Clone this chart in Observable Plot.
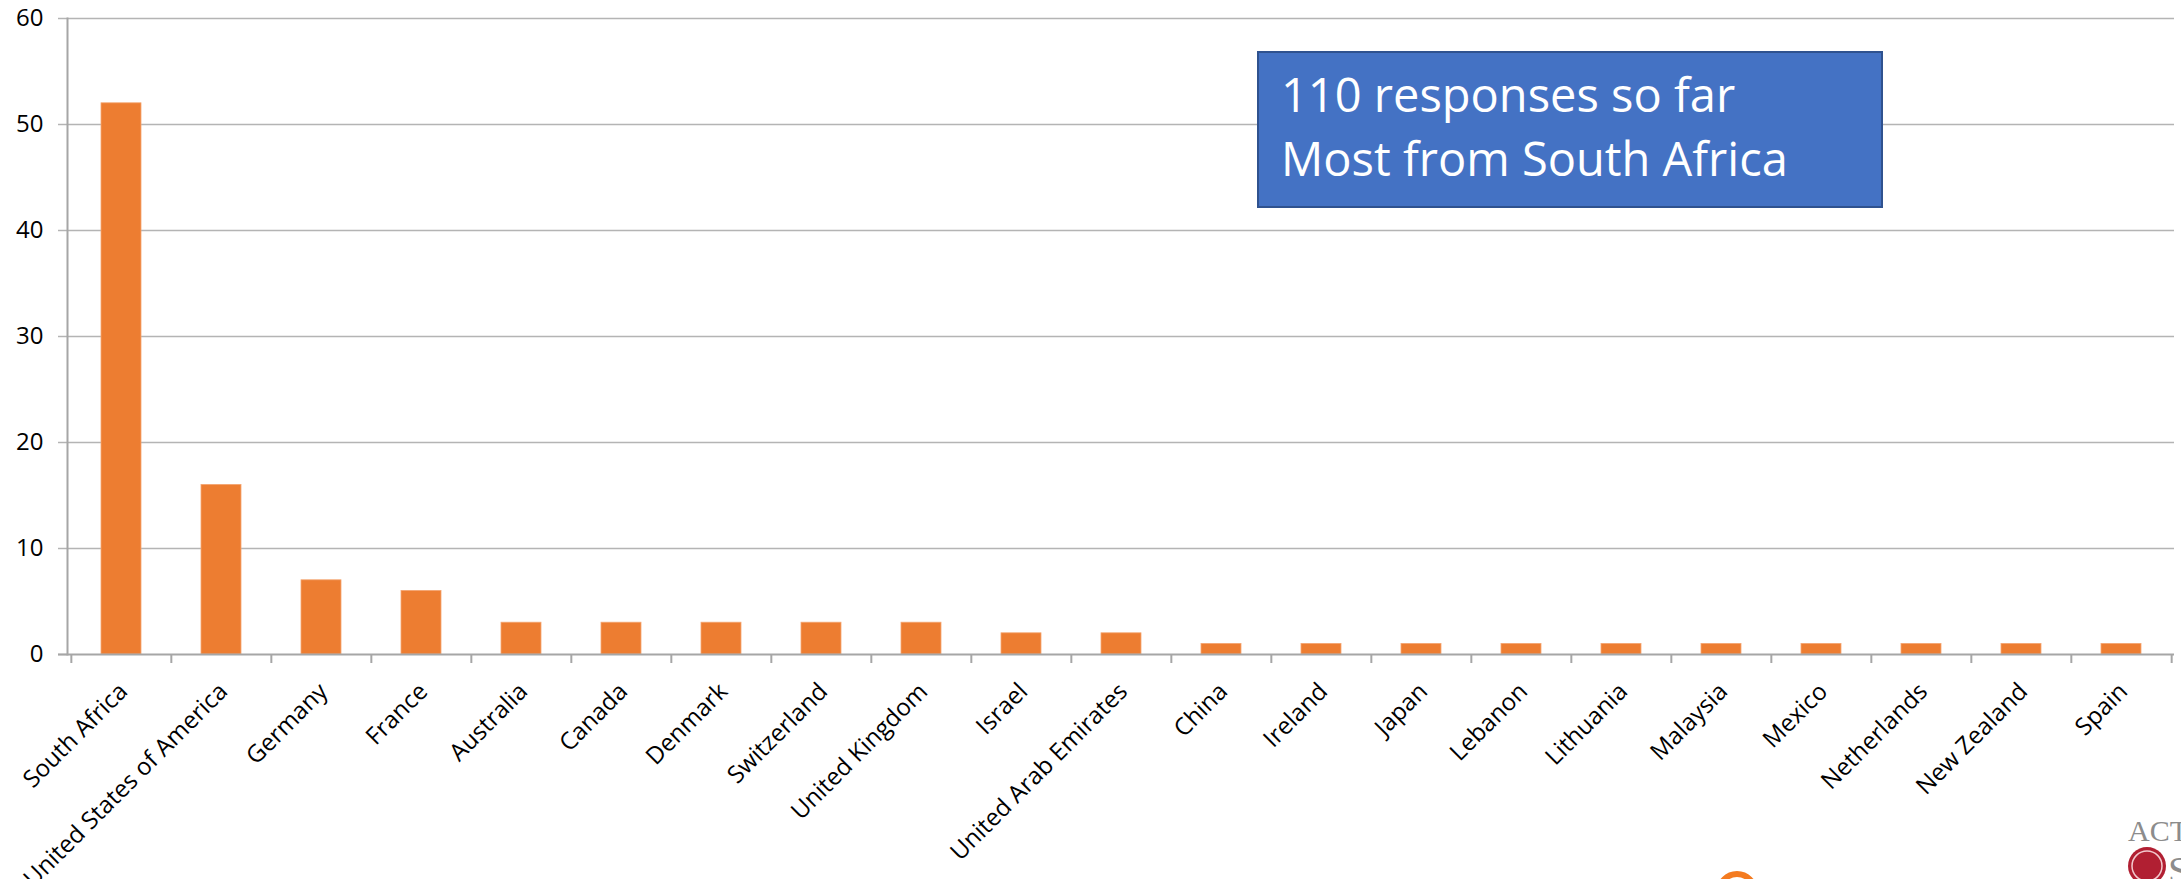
<!DOCTYPE html>
<html>
<head>
<meta charset="utf-8">
<script src="https://cdn.jsdelivr.net/npm/d3@7"></script>
<script src="https://cdn.jsdelivr.net/npm/@observablehq/plot@0.6"></script>
<style>
  html, body { margin: 0; padding: 0; background: #fff; }
  #wrap { position: relative; width: 2181px; height: 879px; overflow: hidden; }
  #note {
    position: absolute; left: 1257px; top: 51px; width: 626px; height: 157px;
    box-sizing: border-box; background: #4472C4; border: 2px solid #2F528F;
    font-family: "Open Sans", sans-serif; color: #fff; font-size: 47px; line-height: 64px;
  }
  #note span { display: block; white-space: nowrap; position: absolute; left: 22px; }
  #logo { position: absolute; left: 2128px; top: 816px; font-family: "Liberation Serif", serif; color: #8c8c8c; font-size: 30px; line-height: 1; }
</style>
</head>
<body>
<div id="wrap">
  <div id="chart"></div>
  <div id="note"><span style="top:9px">110 responses so far</span><span style="top:73px">Most from South Africa</span></div>
  <div id="logo">ACT</div>
  <svg style="position:absolute;left:0;top:0" width="2181" height="879">
    <circle cx="2147" cy="866" r="19" fill="#B11F32"/>
    <circle cx="2147" cy="866" r="15" fill="none" stroke="#f3c9ce" stroke-width="1.5"/>
    <text x="2168" y="884" font-family="Liberation Serif" font-size="40" fill="#8c8c8c">S</text>
    <circle cx="1737" cy="892" r="18" fill="none" stroke="#F47B20" stroke-width="6"/>
  </svg>
</div>
<script>
const countries = ["South Africa","United States of America","Germany","France","Australia","Canada","Denmark","Switzerland","United Kingdom","Israel","United Arab Emirates","China","Ireland","Japan","Lebanon","Lithuania","Malaysia","Mexico","Netherlands","New Zealand","Spain"];
const responses = [52,16,7,6,3,3,3,3,3,2,2,1,1,1,1,1,1,1,1,1,1];
const yTicks = [0,10,20,30,40,50,60];

const data = countries.map((c, i) => ({country: c, value: responses[i]}));
const W = 2181, H = 879, ML = 67, MR = 7, MT = 18, MB = 225;
const step = (W - ML - MR) / countries.length;
const grid = "#B4B4B4", axis = "#A6A6A6";

const chart = Plot.plot({
  width: W, height: H,
  marginLeft: ML, marginRight: MR, marginTop: MT, marginBottom: MB,
  style: {fontFamily: "'Open Sans', sans-serif", background: "transparent", overflow: "visible"},
  x: {domain: countries, paddingInner: 0.6, paddingOuter: 0.3, axis: null},
  y: {domain: [0, 60], axis: null},
  marks: [
    Plot.gridY(yTicks.filter(d => d > 0), {stroke: grid, strokeOpacity: 1, strokeWidth: 1.5}),
    Plot.axisY({ticks: yTicks, tickSize: 9, tickPadding: 15, stroke: grid, strokeWidth: 1.5, fontSize: 24, fill: "#000", label: null}),
    Plot.barY(data, {x: "country", y: "value", fill: "#ED7D31", stroke: "#F4A672", strokeWidth: 0.8}),
    Plot.frame({anchor: "left", stroke: axis, strokeWidth: 2}),
    Plot.ruleY([0], {stroke: axis, strokeWidth: 2, insetLeft: -9}),
    Plot.axisX({ticks: countries, tickFormat: () => "", tickSize: 9, dx: -step / 2, stroke: axis, strokeWidth: 2, label: null}),
    Plot.axisX({ticks: [countries[countries.length - 1]], tickFormat: () => "", tickSize: 9, dx: step / 2, stroke: axis, strokeWidth: 2, label: null}),
    Plot.text(data, {x: "country", y: () => 0, text: "country", rotate: -45, textAnchor: "end", dx: 2, dy: 33, fontSize: 24, fill: "#000"})
  ]
});
document.getElementById("chart").appendChild(chart);
</script>
</body>
</html>
